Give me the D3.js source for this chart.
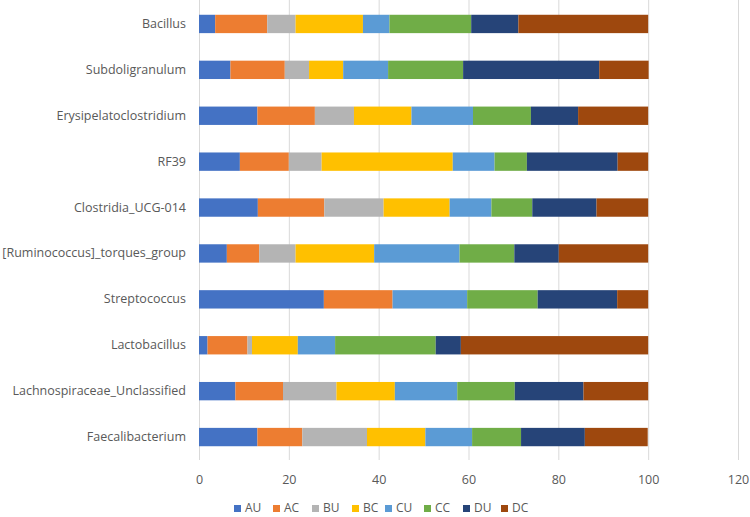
<!DOCTYPE html>
<html><head><meta charset="utf-8">
<script src="https://cdn.jsdelivr.net/npm/d3@7"></script>
<style>body{margin:0;background:#fff}svg{display:block}</style>
</head><body>
<svg id="c" width="750" height="517"></svg>
<script>
const categories = ["Bacillus","Subdoligranulum","Erysipelatoclostridium","RF39","Clostridia_UCG-014","[Ruminococcus]_torques_group","Streptococcus","Lactobacillus","Lachnospiraceae_Unclassified","Faecalibacterium"];
const seriesNames = ["AU","AC","BU","BC","CU","CC","DU","DC"];
const colors = ["#4472C4","#ED7D31","#B4B4B4","#FFC000","#5B9BD5","#70AD47","#264478","#9E480E"];
const AU = [3.6, 7.0, 13.0, 9.1, 13.1, 6.2, 27.8, 1.9, 8.1, 13.0];
const AC = [11.6, 12.1, 12.8, 10.9, 14.8, 7.2, 15.3, 8.9, 10.6, 10.0];
const BU = [6.3, 5.4, 8.7, 7.3, 13.2, 8.1, 0, 1.0, 11.9, 14.4];
const BC = [15.0, 7.6, 12.8, 29.2, 14.7, 17.5, 0, 10.2, 13.0, 13.0];
const CU = [5.9, 10.0, 13.7, 9.3, 9.3, 19.0, 16.6, 8.3, 13.9, 10.4];
const CC = [18.2, 16.7, 12.9, 7.2, 9.1, 12.2, 15.7, 22.4, 12.8, 10.9];
const DU = [10.5, 30.3, 10.5, 20.2, 14.3, 9.9, 17.7, 5.6, 15.3, 14.2];
const DC = [28.9, 11.0, 15.6, 6.8, 11.5, 19.9, 6.9, 41.7, 14.4, 14.0];
const xTicks = [0,20,40,60,80,100,120];

const seriesValues = [AU,AC,BU,BC,CU,CC,DU,DC];
const rows = categories.map((c,i)=>{const r={cat:c}; seriesNames.forEach((s,j)=>r[s]=seriesValues[j][i]); return r;});
const stack = d3.stack().keys(seriesNames)(rows);

const svg = d3.select("#c");
const font = "'Open Sans', sans-serif";
const x = d3.scaleLinear().domain([0,120]).range([199,738]);
const y = d3.scaleBand().domain(categories).range([1,460]).paddingInner(0.6).paddingOuter(0.3);

svg.append("g").selectAll("line").data(xTicks).join("line")
  .attr("x1",d=>x(d)+0.5).attr("x2",d=>x(d)+0.5).attr("y1",0).attr("y2",460)
  .attr("stroke","#d9d9d9").attr("stroke-width",1);

svg.append("g").selectAll("g").data(stack).join("g")
  .attr("fill",(d,i)=>colors[i])
  .selectAll("rect").data(d=>d).join("rect")
  .attr("x",d=>x(d[0])).attr("width",d=>Math.max(0,x(d[1])-x(d[0])))
  .attr("y",(d)=>y(d.data.cat)).attr("height",y.bandwidth());

const xAxis = svg.append("g").attr("transform","translate(0,460)")
  .call(d3.axisBottom(x).tickValues(xTicks).tickSize(0).tickPadding(15));
xAxis.select(".domain").remove();
xAxis.selectAll("text").attr("font-family",font).attr("font-size",12.5).attr("fill","#595959");

const yAxis = svg.append("g").attr("transform","translate(199,0)")
  .call(d3.axisLeft(y).tickSize(0).tickPadding(13));
yAxis.select(".domain").remove();
yAxis.selectAll("text").attr("font-family",font).attr("font-size",12.5).attr("fill","#595959");

const legendX = [234,273,312,352,385,424,463,501];
const lg = svg.append("g").selectAll("g").data(seriesNames).join("g")
  .attr("transform",(d,i)=>`translate(${legendX[i]},512)`);
lg.append("rect").attr("x",0).attr("y",-7).attr("width",7).attr("height",7).attr("fill",(d,i)=>colors[i]);
lg.append("text").attr("x",11).attr("y",0).text(d=>d)
  .attr("font-family",font).attr("font-size",12).attr("fill","#595959");
</script>
</body></html>
